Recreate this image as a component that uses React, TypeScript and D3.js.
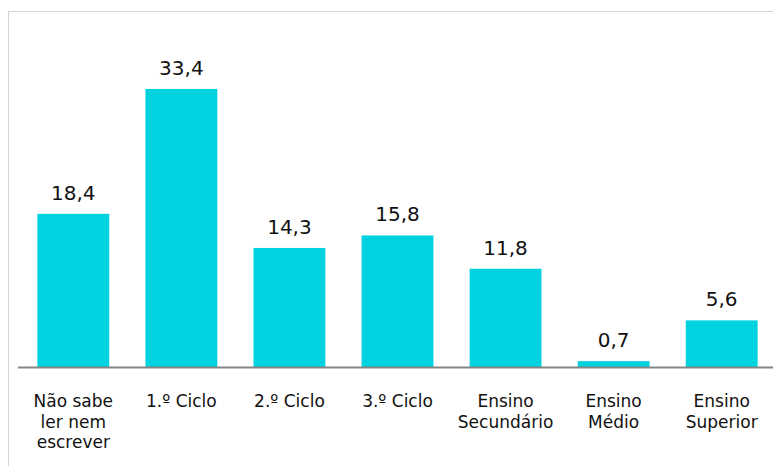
import * as d3 from 'd3'

const categories = ['Não sabe ler nem escrever', '1.º Ciclo', '2.º Ciclo', '3.º Ciclo', 'Ensino Secundário', 'Ensino Médio', 'Ensino Superior']
const labelLines = [['Não sabe', 'ler nem', 'escrever'], ['1.º Ciclo'], ['2.º Ciclo'], ['3.º Ciclo'], ['Ensino', 'Secundário'], ['Ensino', 'Médio'], ['Ensino', 'Superior']]
const values = [18.4, 33.4, 14.3, 15.8, 11.8, 0.7, 5.6]

const W = 773
const H = 466
const BASE = 367
const FONT = 'DejaVu Sans, Verdana, sans-serif'

export default function App() {
  const x = d3.scaleBand<string>()
    .domain(categories)
    .range([19, 776])
    .paddingInner(0.335)
    .paddingOuter(0.17)

  const y = d3.scaleLinear().domain([0, 40]).range([BASE, 34])

  const fmt = (v: number) => v.toFixed(1).replace('.', ',')

  return (
    <svg width={W} height={H} style={{ position: 'fixed', left: 0, top: 0, background: '#fff' }}>
      {/* outer frame */}
      <rect x={8.5} y={11.5} width={W + 20} height={H + 20} fill="none" stroke="#d4d4d4" strokeWidth={1} />

      {categories.map((c, i) => {
        const bx = x(c)!
        const cx = bx + x.bandwidth() / 2
        const v = values[i]
        return (
          <g key={c}>
            <rect x={bx} y={y(v)} width={x.bandwidth()} height={BASE - y(v)} fill="#00D2E0" />
            <text x={cx} y={y(v) - 14} textAnchor="middle" fontSize={20} fontFamily={FONT} fill="#111">
              {fmt(v)}
            </text>
            {labelLines[i].map((line, j) => (
              <text key={j} x={cx} y={407 + j * 20.5} textAnchor="middle" fontSize={17} fontFamily={FONT} fill="#111">
                {line}
              </text>
            ))}
          </g>
        )
      })}

      {/* baseline */}
      <line x1={18} x2={W} y1={BASE + 0.5} y2={BASE + 0.5} stroke="#858585" strokeWidth={2} />
    </svg>
  )
}
